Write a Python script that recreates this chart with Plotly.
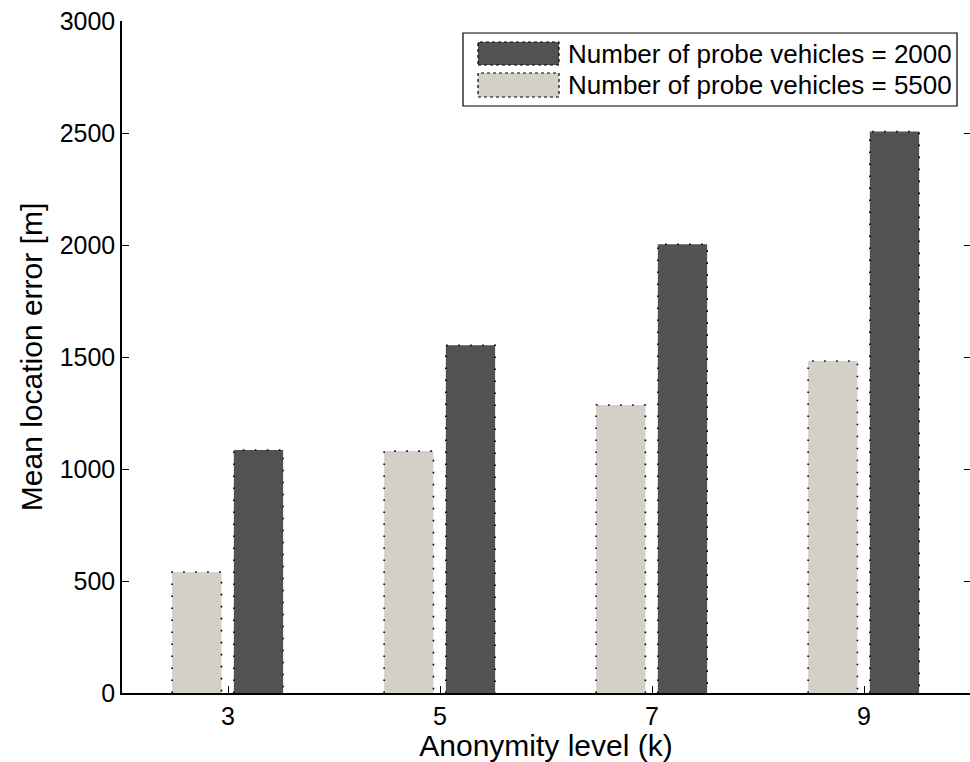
import plotly.graph_objects as go

# ---- data ----
categories = [3, 5, 7, 9]
series_names = ["Number of probe vehicles = 2000", "Number of probe vehicles = 5500"]
vals_2000 = [1085, 1552, 2003, 2507]
vals_5500 = [540, 1080, 1286, 1482]
y_ticks = [0, 500, 1000, 1500, 2000, 2500, 3000]

DARK = "#525252"
LIGHT = "#d4d0c8"
FONT = "Liberation Sans, Arial, Helvetica, sans-serif"
FS = 25
FS_LEG = 26

W, H = 970, 762
ML, MR, MT, MB = 122, 0, 21, 69
PW, PH = W - ML - MR, H - MT - MB

BAR_W = 0.465
OFF_LIGHT = -0.527
OFF_DARK = 0.055

fig = go.Figure()

fig.add_trace(go.Bar(x=categories, y=vals_5500, width=BAR_W, offset=OFF_LIGHT,
                     marker=dict(color=LIGHT, line=dict(width=0)), name=series_names[1],
                     showlegend=False))
fig.add_trace(go.Bar(x=categories, y=vals_2000, width=BAR_W, offset=OFF_DARK,
                     marker=dict(color=DARK, line=dict(width=0)), name=series_names[0],
                     showlegend=False))

# dotted outlines of bars (derived from data)
def outline(vals, off):
    xs, ys = [], []
    for c, v in zip(categories, vals):
        x0, x1 = c + off, c + off + BAR_W
        xs += [x0, x0, x1, x1, None]
        ys += [0, v, v, 0, None]
    return xs, ys

for vals, off in [(vals_5500, OFF_LIGHT), (vals_2000, OFF_DARK)]:
    xs, ys = outline(vals, off)
    fig.add_trace(go.Scatter(x=xs, y=ys, mode="lines", hoverinfo="skip", showlegend=False,
                             line=dict(color="black", width=1.6, dash="1.6px,10.4px")))

# invisible trace for right-side ticks
fig.add_trace(go.Scatter(x=[categories[0]], y=[0], yaxis="y2", mode="markers",
                         marker=dict(opacity=0), showlegend=False, hoverinfo="skip"))

fig.update_layout(
    width=W, height=H,
    margin=dict(l=ML, r=MR, t=MT, b=MB, pad=0),
    paper_bgcolor="white", plot_bgcolor="white",
    barmode="overlay",
    font=dict(family=FONT, size=FS, color="black"),
    xaxis=dict(range=[2, 10], tickvals=categories, ticktext=[str(c) for c in categories],
               ticks="inside", ticklen=7, tickwidth=1, tickcolor="black",
               showline=True, linecolor="black", linewidth=1.5,
               showgrid=False, zeroline=False,
               title=dict(text="Anonymity level (k)", standoff=6),
               tickfont=dict(size=FS)),
    yaxis=dict(range=[0, 3000], tickvals=y_ticks, ticktext=[str(t) for t in y_ticks],
               ticks="inside", ticklen=7, tickwidth=1, tickcolor="black",
               showline=True, linecolor="black", linewidth=1.5,
               showgrid=False, zeroline=False,
               title=dict(text="Mean location error [m]", standoff=8),
               tickfont=dict(size=FS)),
    yaxis2=dict(overlaying="y", side="right", range=[0, 3000], tickvals=y_ticks,
                ticks="inside", ticklen=6, tickwidth=1, tickcolor="black",
                showticklabels=False, showline=False, showgrid=False, zeroline=False),
)

# manual legend (MATLAB style large swatches)
def px2x(px):
    return (px - ML) / PW

def py2y(py):
    return (H - MB - py) / PH

fig.add_shape(type="rect", xref="paper", yref="paper",
              x0=px2x(463), x1=px2x(957), y0=py2y(106), y1=py2y(33),
              line=dict(color="black", width=1.2), fillcolor="white", layer="above")
for (name, col, ytop, ybot) in [(series_names[0], DARK, 42, 65), (series_names[1], LIGHT, 73, 97)]:
    fig.add_shape(type="rect", xref="paper", yref="paper",
                  x0=px2x(478), x1=px2x(559), y0=py2y(ybot), y1=py2y(ytop),
                  line=dict(color="black", width=1.2, dash="dot"), fillcolor=col, layer="above")
    fig.add_annotation(xref="paper", yref="paper", x=px2x(566), y=py2y((ytop + ybot) / 2),
                       text=name, showarrow=False, xanchor="left", yanchor="middle",
                       font=dict(size=FS_LEG, family=FONT, color="black"))

fig.write_html("out.html")
